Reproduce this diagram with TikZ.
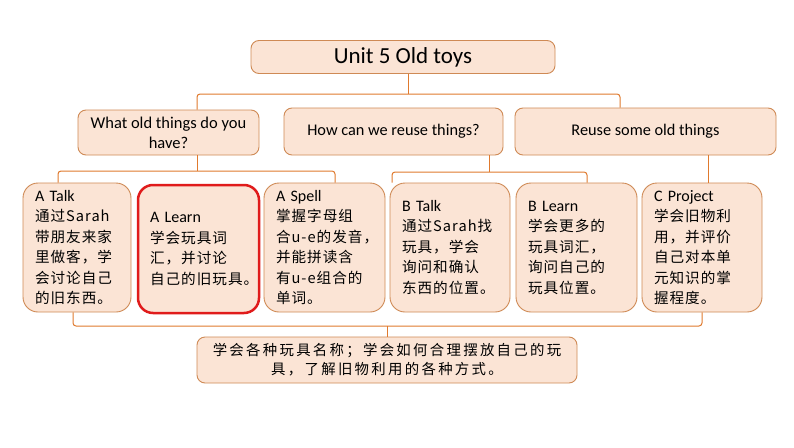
\documentclass[tikz,border=0pt]{standalone}
\usepackage{fontspec}
\setmainfont{Carlito}
\newfontfamily\cjkfam[LetterSpace=7]{Noto Sans CJK SC}
\newfontfamily\cjkwide[LetterSpace=16]{Noto Sans CJK SC}
\newcommand\zhtext{\cjkfam\fontsize{14.6}{20.5}\selectfont}
\usetikzlibrary{calc}
\definecolor{boxfill}{HTML}{FBE4D5}
\definecolor{boxdraw}{HTML}{CF8A55}
\definecolor{connc}{HTML}{E07A2E}
\definecolor{redb}{HTML}{E01B1B}
\begin{document}
\begin{tikzpicture}[x=1pt,y=-1pt,
  box/.style={draw=boxdraw, fill=boxfill, line width=0.9pt, rounded corners=8pt, inner sep=0pt},
  card/.style={box, rounded corners=15pt, minimum height=129pt, align=left, inner xsep=12pt,
    font=\fontsize{16}{20.5}\selectfont},
  link/.style={draw=connc, line width=1pt, rounded corners=3pt}]

\useasboundingbox[fill=white] (0,0) rectangle (794,447);

\node[box, minimum width=304pt, minimum height=33pt, font=\fontsize{23}{26}\selectfont] (title) at (403,57) {Unit 5 Old toys};

\node[box, minimum width=181pt, minimum height=45pt, align=center, font=\fontsize{16.5}{20}\selectfont] (q1) at (168.5,132.5) {What old things do you\\have?};
\node[box, minimum width=219pt, minimum height=47pt, font=\fontsize{16.3}{18}\selectfont] (q2) at (393.5,131.5) {How can we reuse things?};
\node[box, minimum width=261pt, minimum height=47pt, font=\fontsize{16.3}{18}\selectfont] (q3) at (645.5,131.5) {Reuse some old things};

\node[card, minimum width=108pt, text width=84pt] (aT) at (77,247.5)
  {A Talk\\{\zhtext 通过Sarah\\带朋友来家\\里做客，学\\会讨论自己\\的旧东西。}};
\node[card, draw=redb, line width=2.5pt, minimum width=121pt, minimum height=128pt, text width=97pt] (aL) at (198.5,249)
  {A Learn\\{\zhtext 学会玩具词\\汇，并讨论\\自己的旧玩具。}};
\node[card, minimum width=121pt, text width=97pt] (aS) at (324.5,247.5)
  {A Spell\\{\zhtext 掌握字母组\\\mbox{合u-e的发音，}\\并能拼读含\\\mbox{有u-e组合的}\\单词。}};
\node[card, minimum width=120pt, text width=96pt] (bT) at (450,247.5)
  {B Talk\\{\zhtext 通过Sarah找\\玩具，学会\\询问和确认\\东西的位置。}};
\node[card, minimum width=121pt, text width=97pt] (bL) at (576.5,247.5)
  {B Learn\\{\zhtext 学会更多的\\玩具词汇，\\询问自己的\\玩具位置。}};
\node[card, minimum width=120pt, text width=96pt] (cP) at (702,247.5)
  {C Project\\{\zhtext 学会旧物利\\用，并评价\\自己对本单\\元知识的掌\\握程度。}};

\node[box, minimum width=380pt, minimum height=46pt, align=center,
  font=\cjkwide\fontsize{14.4}{19}\selectfont] (sum) at (387,360)
  {学会各种玩具名称；学会如何合理摆放自己的玩\\具，了解旧物利用的各种方式。};

% connectors
\coordinate (j0) at (408,94);
\draw[link] ([xshift=5pt]title.south) -- (j0);
\draw[link] ([xshift=28.5pt]q1.north) |- (j0) -| ([xshift=-25.5pt]q3.north);

\coordinate (j1) at (197,171);
\draw[link] ([xshift=28.5pt]q1.south) -- (j1);
\draw[link] ([xshift=-19pt]aT.north) |- (j1) -| ([xshift=10.5pt]aS.north);

\coordinate (j2) at (489,172);
\draw[link] ([xshift=95.5pt]q2.south) -- (j2);
\draw[link] ([xshift=-58pt]bT.north) |- (j2) -| ([xshift=10.5pt]bL.north);

\draw[link] ([xshift=62.5pt]q3.south) -- ([xshift=6pt]cP.north);

\coordinate (j3) at (387,326);
\draw[link] ([xshift=-4pt]aT.south) |- (j3) -| (cP.south);
\draw[link] (j3) -- (sum.north);
\end{tikzpicture}
\end{document}
